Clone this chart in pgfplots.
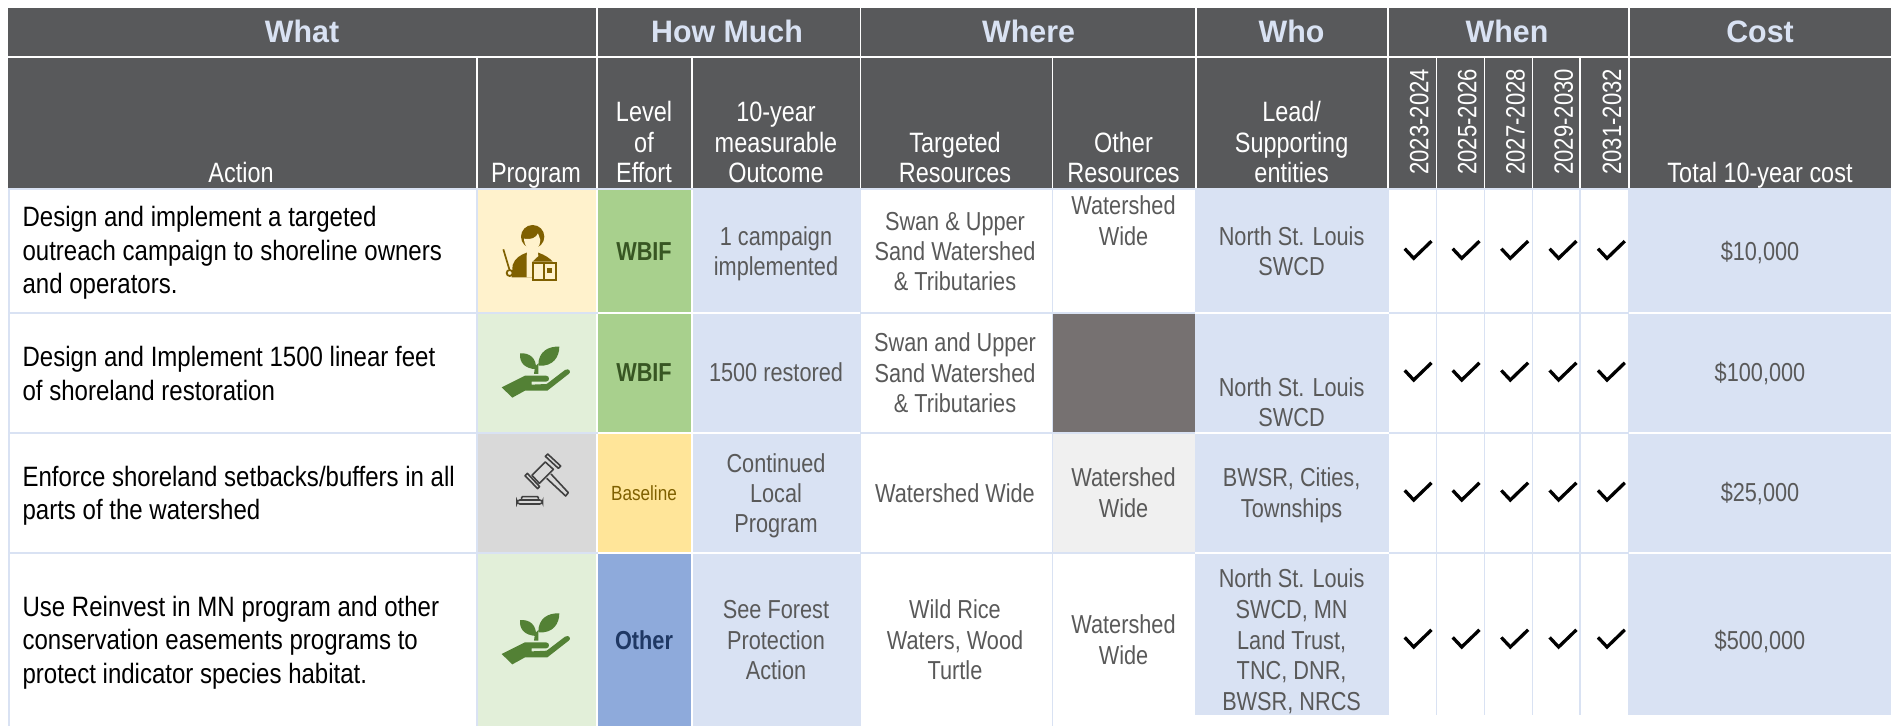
\documentclass[border=0pt]{standalone}
\usepackage{fontspec}
\usepackage{pgfplots}
\pgfplotsset{compat=1.18}
\setmainfont{Liberation Sans}
\newfontfamily\nf[FakeStretch=0.835]{Liberation Sans}
\newfontfamily\af[FakeStretch=0.858]{Liberation Sans}
\newfontfamily\wf[FakeStretch=0.8375]{Liberation Sans}
\newfontfamily\tf[FakeStretch=0.98]{Liberation Sans}
\definecolor{hd}{HTML}{58595B}
\definecolor{lb}{HTML}{D9E2F3}
\definecolor{gt}{HTML}{595959}
\definecolor{yl}{HTML}{FFF2CC}
\definecolor{gn}{HTML}{E2EFD9}
\definecolor{gy}{HTML}{D9D9D9}
\definecolor{lg}{HTML}{A8D08D}
\definecolor{ly}{HTML}{FFE599}
\definecolor{lo}{HTML}{8EAADB}
\definecolor{dg}{HTML}{767171}
\definecolor{pg}{HTML}{F0F0F0}
\definecolor{ic}{HTML}{7F6000}
\definecolor{pl}{HTML}{538135}
\definecolor{gv}{HTML}{404040}
\definecolor{wb}{HTML}{385623}
\definecolor{ot}{HTML}{1F3864}
\newcommand\RC[5]{\addplot[fill=#5,draw=none,forget plot] coordinates {(#1,#3)(#2,#3)(#2,#4)(#1,#4)} --cycle;}
\newcommand\TX[4]{\node[anchor=base,inner sep=0pt,font=#1,text=#2] at (axis cs:#3) {#4};}
\newcommand\AC[2]{\node[anchor=base west,inner sep=0pt,font=\af\fontsize{28}{32}\selectfont,text=black] at (axis cs:22.4,#1) {#2};}
\newcommand\GR[3]{\TX{\nf\fontsize{26}{30}\selectfont}{gt}{#1,#2}{#3}}
\newcommand\WH[3]{\TX{\wf\fontsize{28}{32}\selectfont}{white}{#1,#2}{#3}}
\newcommand\HD[2]{\TX{\tf\bfseries\fontsize{31}{35}\selectfont}{lb}{#1,42}{#2}}
\newcommand\YR[2]{\node[anchor=base west,rotate=90,inner sep=0pt,font=\nf\fontsize{26.5}{30}\selectfont,text=white] at (axis cs:#1,175) {#2};}
\newcommand\CK[2]{\addplot[black,line width=3.3pt,line join=miter,forget plot,xshift=#1pt,yshift=-#2pt] coordinates {(-9,-9.6)(0,0)(17.8,-17.2)};}
\newcommand\CR[1]{\CK{1413.7}{#1}\CK{1461.7}{#1}\CK{1510.3}{#1}\CK{1558.6}{#1}\CK{1607}{#1}}
\newcommand\PLANT{%
 \fill[pl] (95,232) -- (165,197) -- (228,197) .. controls (240,197) and (240,215) .. (228,215) -- (185,215) -- (185,224) -- (230,222) -- (285,180) .. controls (298,172) and (305,188) .. (296,192) -- (232,242) -- (165,242) -- (127,263) -- cycle;
 \fill[pl] (198,178) .. controls (165,175) and (148,160) .. (150,130) .. controls (180,128) and (200,145) .. (198,178) -- cycle;
 \fill[pl] (205,165) .. controls (205,125) and (235,108) .. (268,110) .. controls (268,140) and (250,170) .. (207,167) -- cycle;
 \fill[pl] (192,192) -- (195,170) -- (205,160) -- (205,192) -- cycle;}
\begin{document}
\begin{tikzpicture}
\path[use as bounding box] (0,0) rectangle (1898pt,726pt);
\begin{axis}[at={(0,0)},anchor=south west,scale only axis,width=1898pt,height=726pt,
  xmin=0,xmax=1898,ymin=0,ymax=726,y dir=reverse,hide axis,clip=false,no markers]
% header bands
\RC{8}{596}{8}{56}{hd}\RC{597.5}{859.5}{8}{56}{hd}\RC{861}{1195}{8}{56}{hd}
\RC{1197}{1387}{8}{56}{hd}\RC{1389}{1627.5}{8}{56}{hd}\RC{1629.5}{1891}{8}{56}{hd}
\RC{8}{475.8}{58}{188}{hd}\RC{477.6}{596}{58}{188}{hd}\RC{597.5}{691}{58}{188}{hd}
\RC{693}{859.5}{58}{188}{hd}\RC{861}{1051.6}{58}{188}{hd}\RC{1053}{1195}{58}{188}{hd}
\RC{1197}{1387}{58}{188}{hd}\RC{1389}{1435.5}{58}{188}{hd}\RC{1437.3}{1483.8}{58}{188}{hd}
\RC{1485.3}{1531.6}{58}{188}{hd}\RC{1533}{1579.4}{58}{188}{hd}\RC{1580.8}{1627.5}{58}{188}{hd}
\RC{1629.5}{1891}{58}{188}{hd}
% separators
\RC{8}{1891}{188}{190}{lb}\RC{8}{1629}{312}{314}{lb}\RC{8}{1629}{432}{434}{lb}\RC{8}{1629}{552}{554}{lb}
\RC{8}{9.7}{188}{726}{lb}\RC{476}{477.6}{188}{726}{lb}\RC{859.5}{861}{188}{726}{lb}\RC{1051.6}{1053}{188}{726}{lb}
\RC{1435.5}{1437.3}{188}{715}{lb}\RC{1483.8}{1485.3}{188}{715}{lb}\RC{1531.6}{1533}{188}{715}{lb}\RC{1579.4}{1580.8}{188}{715}{lb}
\RC{597.5}{859.5}{312}{314}{white}\RC{597.5}{859.5}{432}{434}{white}\RC{597.5}{859.5}{552}{554}{white}
\RC{1195}{1389}{312}{314}{white}\RC{1195}{1389}{432}{434}{white}\RC{1195}{1389}{552}{554}{white}
% program column
\RC{477.6}{596}{190}{312}{yl}\RC{477.6}{596}{314}{432}{gn}\RC{477.6}{596}{434}{552}{gy}\RC{477.6}{596}{554}{726}{gn}
% level
\RC{597.5}{691}{190}{312}{lg}\RC{597.5}{691}{314}{432}{lg}\RC{597.5}{691}{434}{552}{ly}\RC{597.5}{691}{554}{726}{lo}
% outcome
\RC{693}{859.5}{190}{312}{lb}\RC{693}{859.5}{314}{432}{lb}\RC{693}{859.5}{434}{552}{lb}\RC{693}{859.5}{554}{726}{lb}
% other
\RC{1053}{1195}{314}{432}{dg}\RC{1053}{1195}{434}{552}{pg}
% who
\RC{1195}{1389}{190}{312}{lb}\RC{1195}{1389}{314}{432}{lb}\RC{1195}{1389}{434}{552}{lb}\RC{1195}{1389}{554}{715}{lb}
% cost
\RC{1628}{1891}{190}{312}{lb}\RC{1628}{1891}{314}{432}{lb}\RC{1628}{1891}{434}{552}{lb}\RC{1628}{1891}{554}{715}{lb}
% section heads
\HD{302}{What}\HD{727}{How Much}\HD{1028.6}{Where}\HD{1291.6}{Who}\HD{1507}{When}\HD{1760}{Cost}
% sub heads
\WH{241}{182.7}{Action}\WH{536}{182.7}{Program}
\WH{644}{121.7}{Level}\WH{644}{152}{of}\WH{644}{182.7}{Effort}
\WH{776}{121.7}{10-year}\WH{776}{152}{measurable}\WH{776}{182.7}{Outcome}
\WH{955}{152}{Targeted}\WH{955}{182.7}{Resources}
\WH{1123.5}{152}{Other}\WH{1123.5}{182.7}{Resources}
\WH{1291.6}{121.7}{Lead/}\WH{1291.6}{152}{Supporting}\WH{1291.6}{182.7}{entities}
\WH{1760}{182.7}{Total 10-year cost}
\YR{1428.3}{2023-2024}\YR{1476.3}{2025-2026}\YR{1524.6}{2027-2028}\YR{1572.9}{2029-2030}\YR{1621.2}{2031-2032}
% row 1
\AC{226.7}{Design and implement a targeted}\AC{260}{outreach campaign to shoreline owners}\AC{293.3}{and operators.}
\TX{\nf\bfseries\fontsize{26}{30}\selectfont}{wb}{644,260}{WBIF}
\GR{776}{245}{1 campaign}\GR{776}{275.7}{implemented}
\GR{955}{230}{Swan \& Upper}\GR{955}{260.7}{Sand Watershed}\GR{955}{290.7}{\& Tributaries}
\GR{1123.5}{214.3}{Watershed}\GR{1123.5}{245}{Wide}
\GR{1291.6}{245}{North St. Louis}\GR{1291.6}{275.7}{SWCD}
\GR{1760}{260}{\$10,000}
\CR{258.3}
% row 2
\AC{366.7}{Design and Implement 1500 linear feet}\AC{400}{of shoreland restoration}
\TX{\nf\bfseries\fontsize{26}{30}\selectfont}{wb}{644,381.7}{WBIF}
\GR{776}{381.7}{1500 restored}
\GR{955}{351.7}{Swan and Upper}\GR{955}{382.3}{Sand Watershed}\GR{955}{412.7}{\& Tributaries}
\GR{1291.6}{396}{North St. Louis}\GR{1291.6}{426}{SWCD}
\GR{1760}{381.3}{\$100,000}
\CR{380}
% row 3
\AC{486.7}{Enforce shoreland setbacks/buffers in all}\AC{519.3}{parts of the watershed}
\TX{\nf\fontsize{20.5}{24}\selectfont}{ic}{644,500}{Baseline}
\GR{776}{472.3}{Continued}\GR{776}{502.3}{Local}\GR{776}{532.7}{Program}
\GR{955}{502.3}{Watershed Wide}
\GR{1123.5}{486.7}{Watershed}\GR{1123.5}{517.3}{Wide}
\GR{1291.6}{486.7}{BWSR, Cities,}\GR{1291.6}{517.3}{Townships}
\GR{1760}{501.7}{\$25,000}
\CR{500}
% row 4
\AC{616.7}{Use Reinvest in MN program and other}\AC{649.3}{conservation easements programs to}\AC{683.3}{protect indicator species habitat.}
\TX{\nf\bfseries\fontsize{26}{30}\selectfont}{ot}{644,649.3}{Other}
\GR{776}{618.3}{See Forest}\GR{776}{649}{Protection}\GR{776}{679.3}{Action}
\GR{955}{618.3}{Wild Rice}\GR{955}{649}{Waters, Wood}\GR{955}{679.3}{Turtle}
\GR{1123.5}{633.3}{Watershed}\GR{1123.5}{664}{Wide}
\GR{1291.6}{587.3}{North St. Louis}\GR{1291.6}{618.3}{SWCD, MN}\GR{1291.6}{649}{Land Trust,}\GR{1291.6}{679.3}{TNC, DNR,}\GR{1291.6}{710}{BWSR, NRCS}
\GR{1760}{649}{\$500,000}
\CR{647}
\end{axis}
% icons: coordinates in crop pixels (3 per image pixel)
\begin{scope}[shift={(470pt,536pt)},x=0.3333pt,y=-0.3333pt]
 \fill[ic] (188,140) circle (35);
 \fill[yl] (162,146) .. controls (185,150) and (198,143) .. (204,130) -- (211,150) .. controls (210,192) and (164,192) .. (162,146) -- cycle;
 \fill[ic] (125,262) -- (128,225) .. controls (135,205) and (150,195) .. (170,188) -- (205,188) .. controls (225,195) and (240,205) .. (248,215) -- (187,215) -- (187,262) -- cycle;
 \fill[yl] (172,182) -- (203,182) -- (205,198) -- (187,215) -- (187,262) -- (170,262) -- (170,198) -- cycle;
 \draw[ic,line width=2pt] (188,218) rectangle (258,269);
 \draw[ic,line width=1.5pt] (222,218) -- (222,272);
 \fill[ic] (232,235) rectangle (247,250);
 \draw[ic,line width=1.7pt] (100,178) -- (118,238);
 \draw[ic,line width=1.8pt,fill=yl] (119,249) circle (9);
\end{scope}
\begin{scope}[shift={(470pt,416pt)},x=0.3333pt,y=-0.3333pt]
 \PLANT
\end{scope}
\begin{scope}[shift={(470pt,149.3pt)},x=0.3333pt,y=-0.3333pt]
 \PLANT
\end{scope}
\begin{scope}[shift={(470pt,286pt)},x=0.3333pt,y=-0.3333pt]
 \draw[gv,line width=1.6pt,line join=round] (226,66) -- (250,88) -- (208,130) -- (186,106) -- cycle;
 \draw[gv,line width=1.6pt,line join=round] (233,42) -- (272,78) -- (265,85) -- (226,49) -- cycle;
 \draw[gv,line width=1.6pt,line join=round] (172,100) -- (209,140) -- (203,146) -- (165,107) -- cycle;
 \draw[gv,line width=1.6pt,line join=round] (243,102) -- (295,158) -- (287,168) -- (230,115);
 \draw[gv,line width=1.6pt,rounded corners=1pt] (155,178) -- (155,170) -- (205,170) -- (205,178);
 \draw[gv,line width=1.6pt,rounded corners=3pt] (141,180) rectangle (218,192);
\end{scope}
\end{tikzpicture}
\end{document}
